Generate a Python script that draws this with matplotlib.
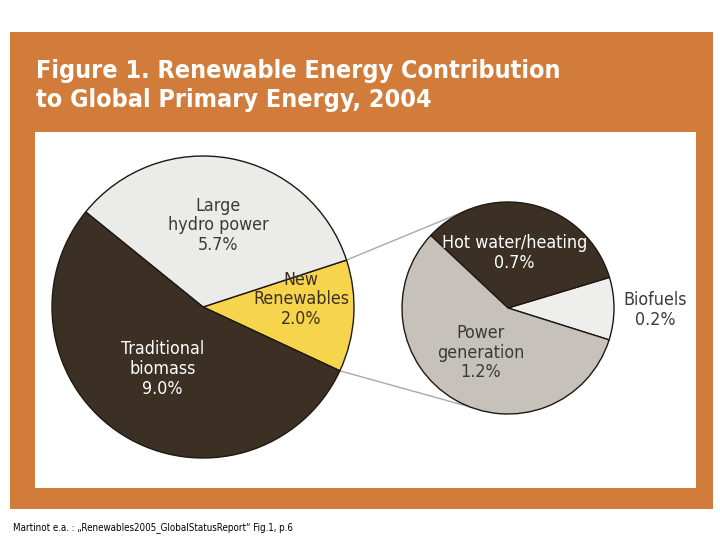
import numpy as np
import matplotlib
matplotlib.use("Agg")
import matplotlib.pyplot as plt
from matplotlib.patches import Rectangle

# ---------------- data ----------------
title_lines = ["Figure 1. Renewable Energy Contribution",
               "to Global Primary Energy, 2004"]
main_labels = ["New\nRenewables", "Large\nhydro power", "Traditional\nbiomass"]
main_values = [2.0, 5.7, 9.0]
sub_labels = ["Biofuels", "Hot water/heating", "Power\ngeneration"]
sub_values = [0.2, 0.7, 1.2]
caption = "Martinot e.a. : \u201eRenewables2005_GlobalStatusReport\u201c Fig.1, p.6"

# ---------------- styles ----------------
ORANGE = "#d27c3c"
DARK = "#3c3024"
main_colors = ["#f6d44c", "#ebebe9", DARK]
main_text_colors = [DARK, "#3a3a3a", "white"]
sub_colors = ["#eeeeec", DARK, "#c6c2bb"]
sub_text_colors = ["#3a3a3a", "white", "#3a3a3a"]

plt.rcParams["font.family"] = ["DejaVu Sans"]
plt.rcParams["font.stretch"] = "condensed"

W, H = 720, 540
fig = plt.figure(figsize=(7.2, 5.4), dpi=100)
fig.patch.set_facecolor("white")
ax = fig.add_axes([0, 0, 1, 1])

def Y(y):  # convert top-down pixel y to axes y
    return H - y

# frame panels
ax.add_patch(Rectangle((10, Y(509)), 703, 477, facecolor=ORANGE, edgecolor="none", zorder=0))
ax.add_patch(Rectangle((35, Y(488)), 661, 356, facecolor="white", edgecolor="none", zorder=1))

# main pie
c1 = (203, Y(307)); r1 = 151
w1, _ = ax.pie(main_values, colors=main_colors, startangle=-25, counterclock=True,
               center=c1, radius=r1, frame=True,
               wedgeprops=dict(edgecolor="#1e1812", linewidth=1.0, zorder=3))
# sub pie
c2 = (508, Y(308)); r2 = 106
w2, _ = ax.pie(sub_values, colors=sub_colors, startangle=-17.5, counterclock=True,
               center=c2, radius=r2, frame=True,
               wedgeprops=dict(edgecolor="#1e1812", linewidth=1.0, zorder=3))
for w in list(w1) + list(w2):
    w.set_zorder(3)

# connector lines from the "New Renewables" wedge to the sub pie
new_w = w1[0]
for ang_big, ang_small in [(new_w.theta2, 111), (new_w.theta1, -111)]:
    p1 = (c1[0] + r1 * np.cos(np.radians(ang_big)), c1[1] + r1 * np.sin(np.radians(ang_big)))
    p2 = (c2[0] + r2 * np.cos(np.radians(ang_small)), c2[1] + r2 * np.sin(np.radians(ang_small)))
    ax.plot([p1[0], p2[0]], [p1[1], p2[1]], color="#a9a9a9", lw=1.0, zorder=2)

# labels (offsets as fraction of radius)
main_offsets = [(0.65, 0.05), (0.10, 0.54), (-0.27, -0.41)]
sub_offsets = [(1.39, -0.02), (0.06, 0.52), (-0.26, -0.42)]
main_fmt = [f"{l}\n{v:.1f}%" for l, v in zip(main_labels, main_values)]
sub_fmt = [f"{l}\n{v:.1f}%" for l, v in zip(sub_labels, sub_values)]
for txt, (dx, dy), col in zip(main_fmt, main_offsets, main_text_colors):
    ax.text(c1[0] + dx * r1, c1[1] + dy * r1, txt, ha="center", va="center",
            fontsize=12.8, color=col, linespacing=1.12, zorder=5)
for txt, (dx, dy), col in zip(sub_fmt, sub_offsets, sub_text_colors):
    ax.text(c2[0] + dx * r2, c2[1] + dy * r2, txt, ha="center", va="center",
            fontsize=12.8, color=col, linespacing=1.12, zorder=5)

# title
ax.text(36, Y(71), title_lines[0], ha="left", va="center", fontsize=18,
        fontweight="bold", color="white", zorder=5)
ax.text(36, Y(100), title_lines[1], ha="left", va="center", fontsize=18,
        fontweight="bold", color="white", zorder=5)

# caption
ax.text(13, Y(528), caption, ha="left", va="center", fontsize=7, color="black", zorder=5)

ax.set_xlim(0, W)
ax.set_ylim(0, H)
ax.set_aspect("auto")
ax.axis("off")

fig.savefig("out.png", dpi=100, facecolor="white")
